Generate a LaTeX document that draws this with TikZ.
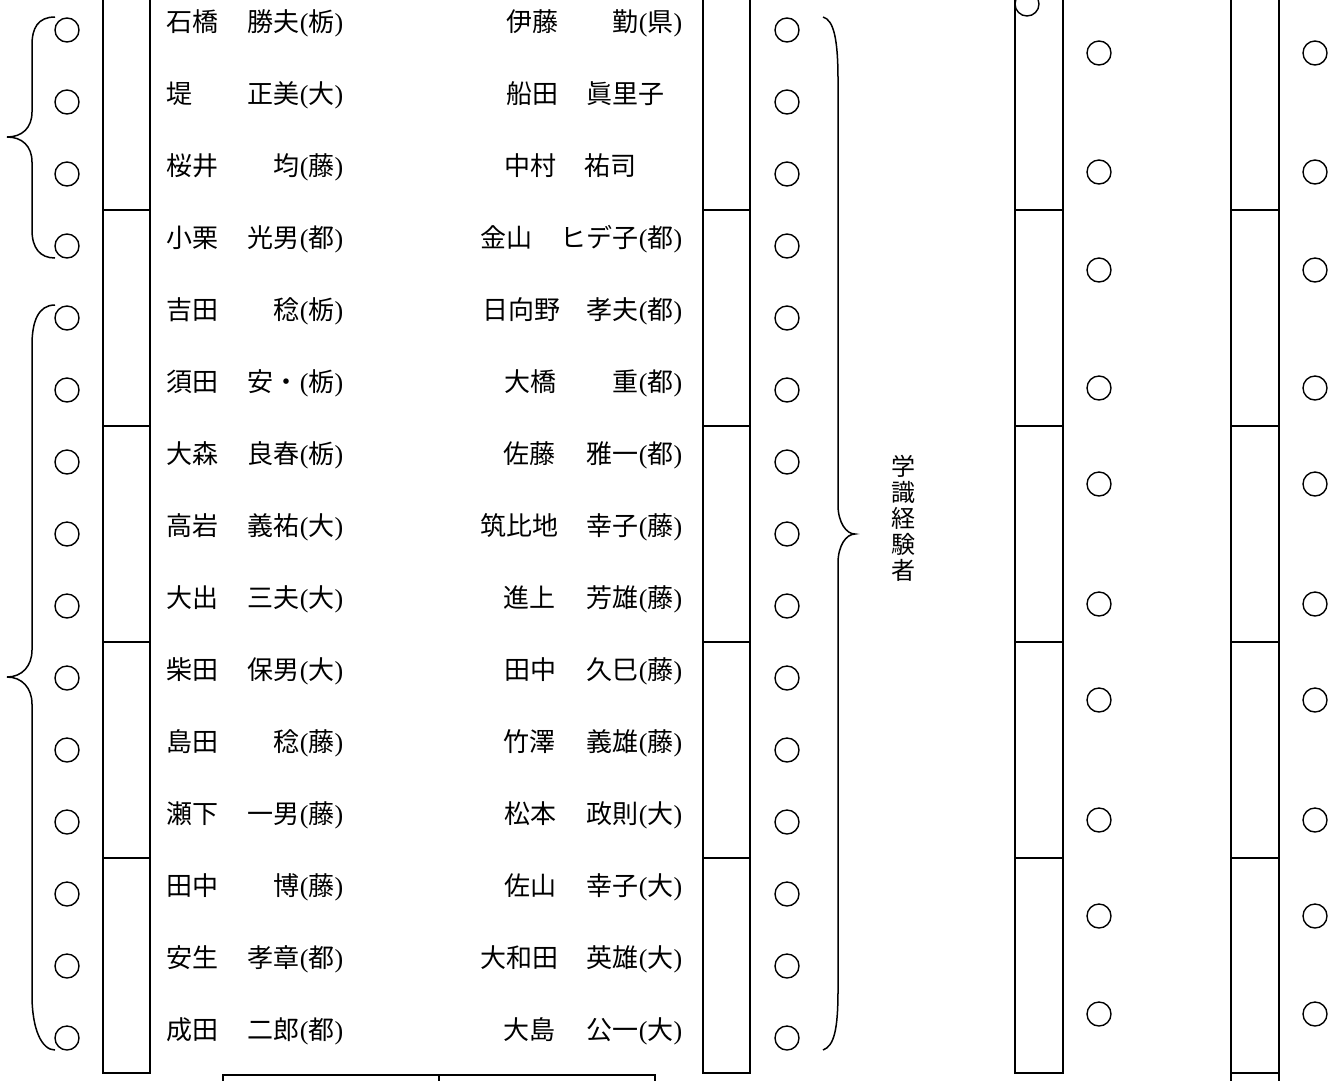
\documentclass[tikz,border=0pt]{standalone}
\usepackage{fontspec}
\setmainfont{Liberation Serif}
\newfontfamily\jp{Noto Sans CJK JP}
\newcommand\pf[1]{\textrm{(}#1\textrm{)}}
\begin{document}
\begin{tikzpicture}[x=1pt,y=-1pt,line width=1.5pt,
  ring/.style={circle,draw,minimum size=24pt,inner sep=0pt,line width=1.4pt},
  desk/.style={draw,line width=1.5pt},
  brace/.style={draw,line width=1.5pt},
  txt/.style={font=\jp\fontsize{26}{26}\selectfont,inner sep=0pt,text height=22.9pt,text depth=3.1pt},
  sur/.style={txt,anchor=west},
  giv/.style={txt,anchor=east},
  vtxt/.style={align=center,inner sep=0pt,font=\jp\fontsize{24}{26}\selectfont}]
\useasboundingbox (0,0) rectangle (1335,1080);
\clip (0,0) rectangle (1335,1080);
\fill[white] (0,0) rectangle (1335,1080);
% desks
\foreach \x/\w in {103/47,703/47,1015/48,1231/48}{
  \foreach \ya/\yb in {-10/210,210/426,426/642,642/858,858/1073}{
    \draw[desk] (\x,\ya) rectangle (\x+\w,\yb);
  }
}
\draw[desk] (1231,1073) rectangle (1279,1095);
% bottom table
\draw[desk] (223,1095) -- (223,1075) -- (655,1075) -- (655,1095);
\draw[desk] (439,1075) -- (439,1095);
% circles, columns 1 and 2
\foreach \i in {1,...,15}{
  \node[ring] (a\i) at (67,{30+72*(\i-1)}) {};
  \node[ring] (b\i) at (787,{30+72*(\i-1)}) {};
}
% circles, columns 3 and 4
\foreach \y [count=\k] in {53,172,270,388,484,604,700,820,916,1014}{
  \node[ring] (c\k) at (1099,\y) {};
  \node[ring] (d\k) at (1315,\y) {};
}
\node[ring] (c0) at (1027,4) {};
% braces
\draw[brace] (55,17) .. controls (38,17) and (32,28) .. (32,45) -- (32,112)
  .. controls (32,128) and (22,137) .. (7,137)
  .. controls (22,137) and (32,146) .. (32,162) -- (32,230)
  .. controls (32,248) and (40,258) .. (55,258);
\draw[brace] (55,305) .. controls (38,305) and (32,322) .. (32,345) -- (32,650)
  .. controls (32,666) and (22,677) .. (7,677)
  .. controls (22,677) and (32,688) .. (32,704) -- (32,995)
  .. controls (32,1030) and (42,1050) .. (55,1050);
\draw[brace] (823,17) .. controls (834,20) and (838,40) .. (838,80) -- (838,505)
  .. controls (838,522) and (846,534) .. (855,534)
  .. controls (846,534) and (838,546) .. (838,563) -- (838,990)
  .. controls (838,1030) and (834,1046) .. (823,1050);
\node[vtxt] (lbl) at (903,518) {学\\識\\経\\験\\者};
% left names
\foreach \s/\g/\p [count=\i] in {石橋/勝夫/栃,堤/正美/大,桜井/均/藤,小栗/光男/都,吉田/稔/栃,須田/安・/栃,大森/良春/栃,高岩/義祐/大,大出/三夫/大,柴田/保男/大,島田/稔/藤,瀬下/一男/藤,田中/博/藤,安生/孝章/都,成田/二郎/都}{
  \node[sur] (ls\i) at (166,{22+72*(\i-1)}) {\s};
  \node[giv] (lg\i) at (344,{22+72*(\i-1)}) {\g\pf{\p}};
}
% right names
\foreach \x/\s/\g/\p [count=\i] in {506/伊藤/勤/県,0/船田/x/x,0/中村/x/x,480/金山/ヒデ子/都,482/日向野/孝夫/都,504/大橋/重/都,503/佐藤/雅一/都,480/筑比地/幸子/藤,503/進上/芳雄/藤,504/田中/久巳/藤,503/竹澤/義雄/藤,504/松本/政則/大,504/佐山/幸子/大,480/大和田/英雄/大,503/大島/公一/大}{
  \ifnum\x>0
  \node[sur] (rs\i) at (\x,{22+72*(\i-1)}) {\s};
  \node[giv] (rg\i) at (683,{22+72*(\i-1)}) {\g\pf{\p}};
  \fi
}
\node[sur] (rs2) at (506,94) {船田};
\node[sur] (rg2) at (586,94) {眞里子};
\node[sur] (rs3) at (504,166) {中村};
\node[sur] (rg3) at (584,166) {祐司};
\end{tikzpicture}
\end{document}
